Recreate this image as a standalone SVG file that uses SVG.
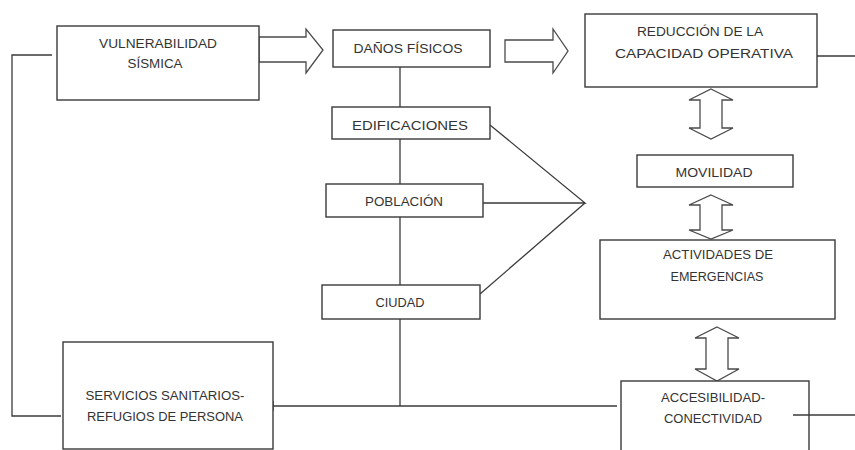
<svg xmlns="http://www.w3.org/2000/svg" width="855" height="450" viewBox="0 0 855 450">
<style>
.box{fill:#fff;stroke:#3a3a3a;stroke-width:1.4}
.ln{fill:none;stroke:#3a3a3a;stroke-width:1.3}
.ar{fill:#fff;stroke:#4a4a4a;stroke-width:1.3;stroke-linejoin:miter}
text{font-family:"Liberation Sans",Arial,sans-serif;font-size:12.5px;fill:#333;text-anchor:middle}
</style>
<rect width="855" height="450" fill="#fff"/>
<g id="connectors">
<polyline class="ln" points="52,55 12,55 12,416 61,416"/>
<line class="ln" x1="400" y1="67" x2="400" y2="406"/>
<line class="ln" x1="273" y1="406" x2="617" y2="406"/>
<line class="ln" x1="273" y1="401" x2="273" y2="411"/>
<polyline class="ln" points="490,125 585,203 483,203"/>
<line class="ln" x1="480" y1="294" x2="585" y2="203"/>
<line class="ln" x1="817" y1="56" x2="855" y2="56"/>
<polygon class="ar" points="259,37 306,37 306,29 323,50 306,73 306,62 259,62"/>
<polygon class="ar" points="505,40 553,40 553,29 568,51 553,73 553,62 505,62"/>
<polygon class="ar" points="711,89 733,100 722,100 722,128 733,128 711,139 689,128 700,128 700,100 689,100"/>
<polygon class="ar" points="711,195 733,205 722,205 722,230 733,230 711,239 689,230 700,230 700,205 689,205"/>
<polygon class="ar" points="717,327 739,338 728,338 728,369 739,369 717,381 695,369 706,369 706,338 695,338"/>
</g>
<g id="vulnerabilidad">
<rect class="box" x="57" y="26" width="202" height="74"/>
<text x="158" y="48" textLength="118" lengthAdjust="spacingAndGlyphs">VULNERABILIDAD</text>
<text x="155" y="68" textLength="55" lengthAdjust="spacingAndGlyphs">SÍSMICA</text>
</g>
<g id="danos">
<rect class="box" x="333" y="30" width="157" height="37"/>
<text x="408" y="53" textLength="109" lengthAdjust="spacingAndGlyphs">DAÑOS FÍSICOS</text>
</g>
<g id="edificaciones">
<rect class="box" x="332" y="107" width="158" height="32"/>
<text x="410" y="130" textLength="116" lengthAdjust="spacingAndGlyphs">EDIFICACIONES</text>
</g>
<g id="poblacion">
<rect class="box" x="326" y="184" width="157" height="33"/>
<text x="404" y="206" textLength="78" lengthAdjust="spacingAndGlyphs">POBLACIÓN</text>
</g>
<g id="ciudad">
<rect class="box" x="322" y="285" width="158" height="34"/>
<text x="400" y="307" textLength="49" lengthAdjust="spacingAndGlyphs">CIUDAD</text>
</g>
<g id="servicios">
<rect class="box" x="63" y="342" width="210" height="107"/>
<text x="165" y="400" textLength="159" lengthAdjust="spacingAndGlyphs">SERVICIOS SANITARIOS-</text>
<text x="165" y="421" textLength="156" lengthAdjust="spacingAndGlyphs">REFUGIOS DE PERSONA</text>
</g>
<g id="reduccion">
<rect class="box" x="585" y="14" width="232" height="73"/>
<text x="700" y="36" textLength="126" lengthAdjust="spacingAndGlyphs">REDUCCIÓN DE LA</text>
<text x="704" y="58" textLength="178" lengthAdjust="spacingAndGlyphs">CAPACIDAD OPERATIVA</text>
</g>
<g id="movilidad">
<rect class="box" x="637" y="155" width="156" height="32"/>
<text x="714" y="177" textLength="77" lengthAdjust="spacingAndGlyphs">MOVILIDAD</text>
</g>
<g id="actividades">
<rect class="box" x="600" y="240" width="235" height="79"/>
<text x="718" y="259" textLength="110" lengthAdjust="spacingAndGlyphs">ACTIVIDADES DE</text>
<text x="717" y="281" textLength="93" lengthAdjust="spacingAndGlyphs">EMERGENCIAS</text>
</g>
<g id="accesibilidad">
<rect class="box" x="621" y="381" width="188" height="80"/>
<text x="713" y="402" textLength="104" lengthAdjust="spacingAndGlyphs">ACCESIBILIDAD-</text>
<text x="713" y="423" textLength="98" lengthAdjust="spacingAndGlyphs">CONECTIVIDAD</text>
</g>
<g id="connector-out">
<line class="ln" x1="793" y1="415" x2="855" y2="415"/>
</g>
</svg>
